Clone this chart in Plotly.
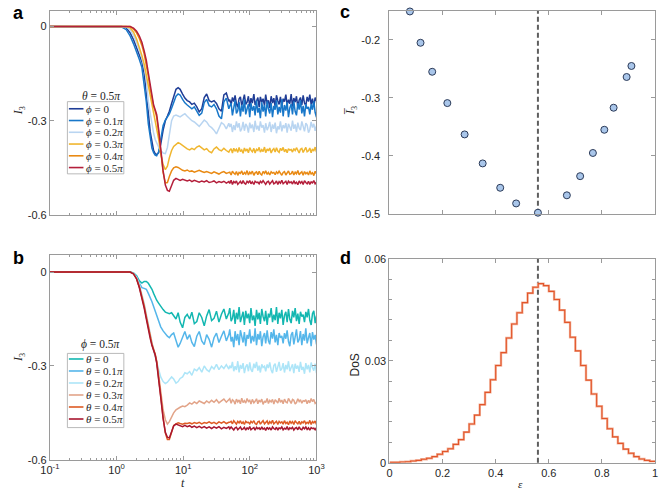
import plotly.graph_objects as go

W, H = 665, 498

# ---------------- data ----------------
T = [0.1, 1.0, 1.2, 1.4, 1.6, 1.8, 2.0, 2.2, 2.4, 2.6,
     2.8, 3.0, 3.2, 3.4, 3.6, 3.8, 4.0, 4.3, 4.6, 5.0,
     5.4, 5.8, 6.2, 6.7, 7.2, 7.8, 8.4, 9.0, 9.8, 10.6,
     11.5, 12.5, 13.5, 14.7, 16, 17.4, 19, 20.7, 22.5, 24.5,
     26.7, 29, 31.6, 34.4, 37.5, 40.8, 44.4, 48.4,
     50, 52.4, 54.8, 57.4, 60.1, 62.9, 65.9, 69, 72.2, 75.6,
     79.2, 82.9, 86.8, 90.9, 95.2, 99.7, 104, 109, 115, 120,
     126, 132, 138, 144, 151, 158, 166, 173, 182, 190,
     199, 209, 219, 229, 240, 251, 263, 275, 288, 302,
     316, 331, 347, 363, 380, 398, 417, 437, 457, 479,
     501, 525, 550, 575, 603, 631, 661, 692, 724, 759,
     794, 832, 871, 912, 955, 1000]

# panel a : theta = 0.5 pi, varying phi
I3_phi0 = [0, 0, 0, -0.004, -0.02, -0.042, -0.066, -0.09, -0.112, -0.15,
           -0.205, -0.275, -0.335, -0.372, -0.395, -0.405, -0.408, -0.402, -0.375, -0.33,
           -0.3, -0.285, -0.27, -0.245, -0.22, -0.2, -0.195, -0.2, -0.215, -0.228,
           -0.236, -0.24, -0.248, -0.244, -0.256, -0.272, -0.262, -0.226, -0.215, -0.236,
           -0.24, -0.236, -0.245, -0.262, -0.27, -0.218, -0.212, -0.238,
           -0.233, -0.250, -0.226, -0.239, -0.219, -0.246, -0.257, -0.230, -0.224, -0.252,
           -0.235, -0.217, -0.248, -0.241, -0.222, -0.255, -0.228, -0.244, -0.215, -0.250,
           -0.237, -0.226, -0.257, -0.224, -0.241, -0.230, -0.252, -0.217, -0.246, -0.235,
           -0.259, -0.222, -0.244, -0.228, -0.255, -0.219, -0.237, -0.248, -0.224, -0.257,
           -0.230, -0.239, -0.217, -0.250, -0.233, -0.246, -0.215, -0.255, -0.228, -0.241,
           -0.222, -0.257, -0.235, -0.226, -0.250, -0.219, -0.244, -0.252, -0.224, -0.239,
           -0.217, -0.248, -0.230, -0.255, -0.226, -0.237]
I3_phi1 = [0, 0, -0.002, -0.01, -0.03, -0.055, -0.08, -0.105, -0.13, -0.18,
           -0.24, -0.31, -0.36, -0.388, -0.402, -0.41, -0.412, -0.398, -0.36, -0.315,
           -0.298, -0.288, -0.278, -0.26, -0.24, -0.222, -0.215, -0.218, -0.232, -0.243,
           -0.25, -0.255, -0.262, -0.256, -0.268, -0.283, -0.276, -0.242, -0.232, -0.252,
           -0.256, -0.248, -0.262, -0.285, -0.294, -0.24, -0.228, -0.262,
           -0.253, -0.244, -0.283, -0.259, -0.235, -0.277, -0.268, -0.241, -0.286, -0.250,
           -0.271, -0.232, -0.280, -0.262, -0.247, -0.289, -0.244, -0.268, -0.253, -0.283,
           -0.235, -0.274, -0.259, -0.292, -0.241, -0.271, -0.250, -0.286, -0.238, -0.262,
           -0.277, -0.244, -0.289, -0.253, -0.265, -0.235, -0.280, -0.256, -0.274, -0.232,
           -0.286, -0.250, -0.268, -0.241, -0.289, -0.259, -0.247, -0.280, -0.238, -0.271,
           -0.283, -0.244, -0.265, -0.235, -0.277, -0.253, -0.286, -0.247, -0.262, -0.256,
           -0.280, -0.247, -0.265, -0.238, -0.274, -0.289]
I3_phi2 = [0, 0, 0, -0.001, -0.01, -0.028, -0.05, -0.075, -0.1, -0.13,
           -0.17, -0.24, -0.28, -0.315, -0.34, -0.36, -0.372, -0.385, -0.395, -0.403,
           -0.405, -0.385, -0.345, -0.3, -0.285, -0.282, -0.285, -0.288, -0.282, -0.278,
           -0.286, -0.295, -0.3, -0.304, -0.31, -0.318, -0.308, -0.298, -0.304, -0.316,
           -0.322, -0.33, -0.342, -0.322, -0.306, -0.312, -0.326, -0.308,
           -0.320, -0.310, -0.336, -0.314, -0.330, -0.302, -0.322, -0.308, -0.334, -0.326,
           -0.304, -0.332, -0.310, -0.318, -0.338, -0.306, -0.324, -0.312, -0.336, -0.300,
           -0.328, -0.316, -0.332, -0.302, -0.322, -0.314, -0.338, -0.308, -0.330, -0.320,
           -0.304, -0.336, -0.312, -0.326, -0.306, -0.340, -0.318, -0.328, -0.302, -0.334,
           -0.314, -0.324, -0.308, -0.338, -0.310, -0.320, -0.332, -0.300, -0.326, -0.312,
           -0.336, -0.306, -0.324, -0.330, -0.302, -0.318, -0.334, -0.308, -0.314, -0.338,
           -0.328, -0.304, -0.322, -0.310, -0.332, -0.316]
I3_phi3 = [0, 0, 0, 0, -0.004, -0.018, -0.04, -0.065, -0.092, -0.12,
           -0.155, -0.19, -0.222, -0.248, -0.27, -0.292, -0.318, -0.36, -0.405, -0.44,
           -0.456, -0.445, -0.418, -0.395, -0.382, -0.374, -0.37, -0.373, -0.38, -0.386,
           -0.39, -0.393, -0.388, -0.392, -0.384, -0.38, -0.386, -0.393, -0.389, -0.398,
           -0.402, -0.39, -0.384, -0.392, -0.396, -0.388, -0.395, -0.4,
           -0.394, -0.389, -0.403, -0.388, -0.396, -0.391, -0.401, -0.385, -0.398, -0.393,
           -0.404, -0.387, -0.397, -0.390, -0.402, -0.386, -0.394, -0.399, -0.388, -0.403,
           -0.391, -0.395, -0.385, -0.400, -0.392, -0.398, -0.384, -0.402, -0.390, -0.396,
           -0.387, -0.403, -0.393, -0.389, -0.400, -0.386, -0.397, -0.401, -0.388, -0.395,
           -0.385, -0.399, -0.391, -0.402, -0.389, -0.394,
           -0.392, -0.400, -0.389, -0.395, -0.386, -0.398, -0.403, -0.391, -0.388, -0.401,
           -0.393, -0.385, -0.399, -0.396, -0.387, -0.402, -0.390, -0.397, -0.384, -0.400]
I3_phi4 = [0, 0, 0, 0, 0, -0.008, -0.02, -0.038, -0.06, -0.088,
           -0.12, -0.158, -0.198, -0.232, -0.254, -0.27, -0.288, -0.34, -0.4, -0.465,
           -0.498, -0.497, -0.478, -0.46, -0.45, -0.447, -0.449, -0.454, -0.458, -0.46,
           -0.457, -0.462, -0.46, -0.464, -0.461, -0.458, -0.462, -0.465, -0.462, -0.466,
           -0.468, -0.463, -0.466, -0.47, -0.465, -0.462, -0.468, -0.464,
           -0.464, -0.473, -0.461, -0.467, -0.471, -0.462, -0.474, -0.465, -0.468, -0.460,
           -0.472, -0.465, -0.470, -0.459, -0.473, -0.464, -0.469, -0.461, -0.474, -0.466,
           -0.463, -0.472, -0.461, -0.469, -0.473, -0.462, -0.468, -0.460, -0.471, -0.465,
           -0.473, -0.463, -0.467,
           -0.465, -0.472, -0.463, -0.468, -0.461, -0.470, -0.474, -0.465, -0.462, -0.473,
           -0.466, -0.460, -0.471, -0.469, -0.461, -0.473, -0.464, -0.469, -0.459, -0.472,
           -0.467, -0.463, -0.474, -0.462, -0.469, -0.465, -0.473, -0.460, -0.470, -0.466,
           -0.475, -0.461, -0.469]
I3_phi5 = [0, 0, 0, 0, 0, -0.005, -0.015, -0.03, -0.05, -0.078,
           -0.108, -0.148, -0.19, -0.226, -0.25, -0.265, -0.28, -0.33, -0.395, -0.46,
           -0.505, -0.522, -0.525, -0.508, -0.49, -0.484, -0.486, -0.49, -0.487, -0.49,
           -0.492, -0.489, -0.494, -0.49, -0.493, -0.496, -0.492, -0.495, -0.491, -0.497,
           -0.495, -0.492, -0.498, -0.494, -0.497, -0.493, -0.499, -0.494,
           -0.500, -0.490, -0.503, -0.494, -0.498, -0.492, -0.503, -0.496, -0.493, -0.501,
           -0.491, -0.499, -0.502, -0.493, -0.498, -0.491, -0.501, -0.495, -0.503, -0.493,
           -0.497,
           -0.496, -0.501, -0.493, -0.498, -0.491, -0.500, -0.503, -0.495, -0.493, -0.502,
           -0.496, -0.491, -0.501, -0.498, -0.492, -0.503, -0.494, -0.499, -0.490, -0.501,
           -0.497, -0.493, -0.503, -0.493, -0.498, -0.495, -0.502, -0.491, -0.500, -0.496,
           -0.504, -0.492, -0.499, -0.494, -0.503, -0.491, -0.497, -0.501, -0.493, -0.503,
           -0.495, -0.498, -0.491, -0.501, -0.496]

# panel b : phi = 0.5 pi, varying theta
I3_th0 = [0, 0, 0, 0, 0, -0.003, -0.012, -0.028, -0.035, -0.03,
          -0.03, -0.036, -0.045, -0.055, -0.068, -0.08, -0.09, -0.1, -0.11, -0.12,
          -0.128, -0.132, -0.133, -0.13, -0.14, -0.15, -0.13, -0.16, -0.178, -0.145,
          -0.135, -0.15, -0.128, -0.165, -0.158, -0.13, -0.145, -0.172, -0.14, -0.12,
          -0.155, -0.148, -0.125, -0.16, -0.135, -0.118, -0.15, -0.13,
          -0.115, -0.157, -0.148, -0.121, -0.166, -0.130, -0.151, -0.112, -0.160, -0.142,
          -0.127, -0.169, -0.124, -0.148, -0.133, -0.163, -0.115, -0.154, -0.139, -0.172,
          -0.121, -0.151, -0.130, -0.166, -0.118, -0.142, -0.157, -0.124, -0.169, -0.133,
          -0.145, -0.115, -0.160, -0.136, -0.154, -0.112, -0.166, -0.130, -0.148, -0.121,
          -0.169, -0.139, -0.127, -0.160, -0.118, -0.151, -0.163, -0.124, -0.145, -0.115,
          -0.157, -0.133, -0.166, -0.127, -0.142,
          -0.136, -0.160, -0.127, -0.145, -0.118, -0.154, -0.169, -0.133, -0.124, -0.163,
          -0.139]
I3_th1 = [0, 0, 0, 0, 0, -0.004, -0.015, -0.035, -0.05, -0.052,
          -0.055, -0.068, -0.08, -0.095, -0.11, -0.125, -0.14, -0.16, -0.175, -0.188,
          -0.198, -0.205, -0.21, -0.2, -0.195, -0.215, -0.24, -0.228, -0.205, -0.19,
          -0.215, -0.2, -0.225, -0.238, -0.205, -0.19, -0.22, -0.232, -0.2, -0.215,
          -0.24, -0.21, -0.195, -0.225, -0.205, -0.188, -0.22, -0.2,
          -0.183, -0.222, -0.207, -0.240, -0.189, -0.219, -0.198, -0.234, -0.186, -0.210,
          -0.225, -0.192, -0.237, -0.201, -0.213, -0.183, -0.228, -0.204, -0.222, -0.180,
          -0.234, -0.198, -0.216, -0.189, -0.237, -0.207, -0.195, -0.228, -0.186, -0.219,
          -0.231, -0.192, -0.213, -0.183, -0.225, -0.201, -0.234, -0.195, -0.210,
          -0.204, -0.228, -0.195, -0.213, -0.186, -0.222, -0.237, -0.201, -0.192, -0.231,
          -0.207, -0.183, -0.225, -0.216, -0.189, -0.234, -0.198, -0.219, -0.180, -0.228,
          -0.210, -0.195, -0.237, -0.192, -0.216, -0.201, -0.231]
I3_th2 = [0, 0, 0, 0, 0, -0.005, -0.018, -0.04, -0.07, -0.1,
          -0.135, -0.17, -0.2, -0.225, -0.25, -0.27, -0.29, -0.315, -0.335, -0.35,
          -0.356, -0.352, -0.345, -0.335, -0.342, -0.355, -0.35, -0.34, -0.335, -0.322,
          -0.325, -0.318, -0.33, -0.31, -0.315, -0.305, -0.32, -0.3, -0.312, -0.318,
          -0.302, -0.31, -0.295, -0.312, -0.3, -0.308, -0.296, -0.31,
          -0.299, -0.307, -0.287, -0.317, -0.301, -0.313, -0.285, -0.321, -0.297, -0.309,
          -0.291, -0.323, -0.303, -0.295, -0.317, -0.289, -0.311, -0.319, -0.293, -0.307,
          -0.287, -0.315, -0.299, -0.321, -0.295, -0.305,
          -0.301, -0.317, -0.295, -0.307, -0.289, -0.313, -0.323, -0.299, -0.293, -0.319,
          -0.303, -0.287, -0.315, -0.309, -0.291, -0.321, -0.297, -0.311, -0.285, -0.317,
          -0.305, -0.295, -0.323, -0.293, -0.309, -0.299, -0.319, -0.287, -0.313, -0.303,
          -0.325, -0.291, -0.311, -0.297, -0.321, -0.289, -0.305, -0.315, -0.293, -0.323]
I3_th3 = [0, 0, 0, 0, 0, -0.005, -0.02, -0.045, -0.075, -0.105,
          -0.14, -0.175, -0.205, -0.228, -0.245, -0.262, -0.285, -0.33, -0.38, -0.44,
          -0.472, -0.486, -0.478, -0.462, -0.45, -0.44, -0.435, -0.432, -0.428, -0.43,
          -0.425, -0.418, -0.422, -0.415, -0.42, -0.412, -0.416, -0.42, -0.412, -0.418,
          -0.41, -0.416, -0.408, -0.418, -0.412, -0.406, -0.416, -0.41,
          -0.405, -0.419, -0.408, -0.412, -0.422, -0.406, -0.415, -0.409, -0.421, -0.403,
          -0.417, -0.411, -0.419, -0.404, -0.414, -0.410, -0.422, -0.407, -0.418, -0.413,
          -0.405, -0.421, -0.409, -0.416, -0.406, -0.423, -0.412, -0.417, -0.404, -0.420,
          -0.410, -0.415, -0.407, -0.422, -0.408, -0.413, -0.419, -0.403, -0.416, -0.409,
          -0.421, -0.406, -0.415, -0.418, -0.404, -0.412, -0.420, -0.407, -0.410, -0.422,
          -0.417, -0.405, -0.414, -0.408, -0.419, -0.411,
          -0.413, -0.408, -0.421, -0.410, -0.418, -0.404, -0.414, -0.407, -0.420, -0.416]
I3_th4 = [0, 0, 0, 0, 0, -0.006, -0.022, -0.048, -0.078, -0.11,
          -0.145, -0.18, -0.21, -0.232, -0.248, -0.262, -0.285, -0.335, -0.395, -0.465,
          -0.515, -0.535, -0.535, -0.512, -0.49, -0.485, -0.482, -0.484, -0.486, -0.483,
          -0.484, -0.482, -0.485, -0.481, -0.484, -0.48, -0.485, -0.481, -0.483, -0.479,
          -0.484, -0.48, -0.485, -0.479, -0.483, -0.478, -0.484, -0.48,
          -0.480, -0.477, -0.485, -0.475, -0.483, -0.486, -0.477, -0.482, -0.475, -0.485,
          -0.479, -0.487, -0.477, -0.481,
          -0.480, -0.485, -0.477, -0.482, -0.475, -0.484, -0.487, -0.479, -0.477, -0.486,
          -0.480, -0.475, -0.485, -0.482, -0.476, -0.487, -0.478, -0.483, -0.474, -0.485,
          -0.481, -0.477, -0.487, -0.477, -0.482, -0.479, -0.486, -0.475, -0.484, -0.480,
          -0.488, -0.476, -0.483, -0.478, -0.487, -0.475, -0.481, -0.485, -0.477, -0.487,
          -0.479, -0.482, -0.475, -0.485, -0.480, -0.484, -0.474, -0.487, -0.478, -0.482,
          -0.476, -0.487]
I3_th5 = [0, 0, 0, 0, 0, -0.006, -0.022, -0.05, -0.08, -0.115,
          -0.15, -0.185, -0.212, -0.235, -0.25, -0.265, -0.29, -0.34, -0.4, -0.468,
          -0.512, -0.528, -0.53, -0.51, -0.492, -0.486, -0.488, -0.492, -0.494, -0.49,
          -0.494, -0.491, -0.496, -0.492, -0.497, -0.493, -0.498, -0.494, -0.499, -0.495,
          -0.5, -0.495, -0.499, -0.494, -0.501, -0.496, -0.5, -0.495,
          -0.501, -0.495, -0.502, -0.505, -0.498, -0.496, -0.504, -0.499, -0.495, -0.503,
          -0.501, -0.496, -0.505, -0.498, -0.502, -0.494, -0.504, -0.500, -0.497, -0.505,
          -0.496, -0.501, -0.498, -0.504, -0.495, -0.502, -0.499, -0.506, -0.496, -0.502,
          -0.498, -0.505, -0.495, -0.500, -0.503, -0.496, -0.505, -0.498, -0.501, -0.495,
          -0.504, -0.499, -0.502, -0.494, -0.505, -0.498, -0.501, -0.496, -0.505, -0.499,
          -0.497, -0.504, -0.495, -0.502, -0.504, -0.496, -0.501, -0.495, -0.503, -0.498,
          -0.505, -0.497, -0.500, -0.499, -0.504, -0.497]

SERIES_A = [I3_phi0, I3_phi1, I3_phi2, I3_phi3, I3_phi4, I3_phi5]
SERIES_B = [I3_th0, I3_th1, I3_th2, I3_th3, I3_th4, I3_th5]
LABELS_A = ["<i>ϕ</i> = 0", "<i>ϕ</i> = 0.1<i>π</i>", "<i>ϕ</i> = 0.2<i>π</i>",
            "<i>ϕ</i> = 0.3<i>π</i>", "<i>ϕ</i> = 0.4<i>π</i>", "<i>ϕ</i> = 0.5<i>π</i>"]
LABELS_B = ["<i>θ</i> = 0", "<i>θ</i> = 0.1<i>π</i>", "<i>θ</i> = 0.2<i>π</i>",
            "<i>θ</i> = 0.3<i>π</i>", "<i>θ</i> = 0.4<i>π</i>", "<i>θ</i> = 0.5<i>π</i>"]
TITLE_A = "<i>θ</i> = 0.5<i>π</i>"
TITLE_B = "<i>ϕ</i> = 0.5<i>π</i>"
COLORS_A = ["#1f3d96", "#1877c9", "#b9d5f1", "#f0b62f", "#e98a14", "#b41f3b"]
COLORS_B = ["#13b7b1", "#55b6ea", "#ade5f8", "#e2a489", "#de5b24", "#a8162f"]

# panel c
EPS_C = [0.077, 0.117, 0.161, 0.218, 0.283, 0.351, 0.417, 0.477, 0.559,
         0.668, 0.718, 0.766, 0.809, 0.844, 0.893, 0.911]
I3BAR_C = [-0.151, -0.205, -0.255, -0.309, -0.363, -0.413, -0.455, -0.482, -0.498,
           -0.468, -0.435, -0.395, -0.355, -0.317, -0.264, -0.245]
EPS_STAR = 0.559

# panel d (bin width 0.02 from 0 to 1)
BIN_WIDTH = 0.02
DOS = [0.0001, 0.0001, 0.0002, 0.0003, 0.0005, 0.0007, 0.001, 0.0013, 0.0018, 0.0025,
       0.0033, 0.0041, 0.0054, 0.0068, 0.009, 0.0114, 0.014, 0.0171, 0.0207, 0.0244,
       0.0286, 0.0324, 0.0367, 0.0408, 0.0441, 0.0471, 0.0499, 0.0516, 0.0527, 0.0521,
       0.0504, 0.048, 0.0449, 0.0413, 0.0369, 0.0329, 0.0286, 0.0243, 0.0202, 0.0166,
       0.013, 0.0100, 0.0076, 0.0057, 0.004, 0.0028, 0.0018, 0.0011, 0.0007, 0.0004]

# ---------------- figure ----------------
AX = "#9a9a9a"
TXT = "#262626"
SANS = "Liberation Sans, Arial, sans-serif"
SERIF = "Liberation Serif, DejaVu Serif, serif"


def px(x):
    return x / W


def py(y):
    return 1 - y / H


fig = go.Figure()

for vals, col in zip(SERIES_A, COLORS_A):
    n = min(len(T), len(vals))
    fig.add_trace(go.Scatter(x=T[:n], y=vals[:n], mode="lines", line=dict(color=col, width=1.5),
                             xaxis="x", yaxis="y", showlegend=False))
for vals, col in zip(SERIES_B, COLORS_B):
    n = min(len(T), len(vals))
    fig.add_trace(go.Scatter(x=T[:n], y=vals[:n], mode="lines", line=dict(color=col, width=1.5),
                             xaxis="x2", yaxis="y2", showlegend=False))

fig.add_trace(go.Scatter(x=EPS_C, y=I3BAR_C, mode="markers", cliponaxis=False,
                         marker=dict(size=7, color="#a9c6ea", line=dict(color="#2b3a58", width=1)),
                         xaxis="x3", yaxis="y3", showlegend=False))

edges = [BIN_WIDTH * i for i in range(len(DOS) + 1)]
fig.add_trace(go.Scatter(x=edges, y=DOS + [DOS[-1]], mode="lines", line_shape="hv",
                         line=dict(color="#f3b29a", width=2.4),
                         xaxis="x4", yaxis="y4", showlegend=False))
fig.add_trace(go.Scatter(x=edges, y=DOS + [DOS[-1]], mode="lines", line_shape="hv",
                         line=dict(color="#e2552a", width=1.1),
                         xaxis="x4", yaxis="y4", showlegend=False))

log_minor = [m * 10 ** e for e in range(-1, 3) for m in range(2, 10)]


def base_axis(**kw):
    d = dict(showline=True, linecolor=AX, linewidth=1, mirror="ticks", ticks="inside",
             ticklen=4, tickcolor=AX, tickwidth=1, showgrid=False, zeroline=False,
             ticklabeloverflow="allow",
             tickfont=dict(family=SANS, size=11, color=TXT))
    d.update(kw)
    return d


xa_dom = [px(41), px(315)]
xc_dom = [px(390), px(663)]

fig.update_layout(
    width=W, height=H, margin=dict(l=0, r=0, t=0, b=0),
    paper_bgcolor="white", plot_bgcolor="white", hovermode=False,
    xaxis=base_axis(domain=xa_dom, anchor="y", type="log", range=[-1, 3],
                    tickvals=[0.1, 1, 10, 100, 1000], showticklabels=False,
                    minor=dict(tickvals=log_minor, ticks="inside", ticklen=2, tickcolor=AX)),
    yaxis=base_axis(domain=[py(214), py(5)], anchor="x", range=[-0.6, 0.05],
                    tickvals=[0, -0.3, -0.6], ticktext=["0", "-0.3", "-0.6"]),
    xaxis2=base_axis(domain=xa_dom, anchor="y2", type="log", range=[-1, 3],
                     tickvals=[0.1, 1, 10, 100, 1000],
                     ticktext=["10<sup>-1</sup>", "10<sup>0</sup>", "10<sup>1</sup>",
                               "10<sup>2</sup>", "10<sup>3</sup>"],
                     minor=dict(tickvals=log_minor, ticks="inside", ticklen=2, tickcolor=AX)),
    yaxis2=base_axis(domain=[py(465), py(255)], anchor="x2", range=[-0.6, 0.055],
                     tickvals=[0, -0.3, -0.6], ticktext=["0", "-0.3", "-0.6"]),
    xaxis3=base_axis(domain=xc_dom, anchor="y3", range=[0, 1],
                     tickvals=[0.2, 0.4, 0.6, 0.8], showticklabels=False),
    yaxis3=base_axis(domain=[py(213), py(5)], anchor="x3", range=[-0.5, -0.15],
                     tickvals=[-0.2, -0.3, -0.4, -0.5], ticktext=["-0.2", "-0.3", "-0.4", "-0.5"],
                     ticklabelstandoff=6),
    xaxis4=base_axis(domain=xc_dom, anchor="y4", range=[0, 1.0],
                     tickvals=[0, 0.2, 0.4, 0.6, 0.8, 1],
                     ticktext=["0", "0.2", "0.4", "0.6", "0.8", "1"]),
    yaxis4=base_axis(domain=[py(468), py(259)], anchor="x4", range=[0, 0.06],
                     tickvals=[0, 0.03, 0.06], ticktext=["0", "0.03", "0.06"],
                     minor=dict(dtick=0.006, tick0=0, ticks="inside", ticklen=3, tickcolor=AX)),
)

# dashed reference lines
for xr, yr in (("x3", "y3 domain"), ("x4", "y4 domain")):
    fig.add_shape(type="line", xref=xr, yref=yr, x0=EPS_STAR, x1=EPS_STAR, y0=0, y1=1,
                  line=dict(color="#5e5e5e", width=2, dash="5px,3px"), layer="below")

annotations = []


def ann(text, x, y, size=12, family=SANS, angle=0, xanchor="center", yanchor="middle",
        color=TXT, bold=False):
    if bold:
        text = "<b>" + text + "</b>"
    annotations.append(dict(text=text, x=px(x), y=py(y), xref="paper", yref="paper",
                            showarrow=False, textangle=angle, xanchor=xanchor,
                            yanchor=yanchor, font=dict(family=family, size=size, color=color)))


# panel letters
ann("a", 1, 7, size=18, xanchor="left", bold=True, color="black")
ann("b", 1, 258, size=18, xanchor="left", bold=True, color="black")
ann("c", 337, 6, size=18, xanchor="left", bold=True, color="black")
ann("d", 337, 258, size=18, xanchor="left", bold=True, color="black")

# axis titles
ann("<i>I</i><sub>3</sub>", 10, 107, size=12, family=SERIF, angle=-90)
ann("<i>I</i><sub>3</sub>", 10, 360, size=12, family=SERIF, angle=-90)
ann("<i>t</i>", 178, 498, size=12, family=SERIF, yanchor="bottom")
ann("<i>I̅</i><sub>3</sub>", 351, 107, size=12, family=SERIF, angle=-90)
ann("DoS", 355, 368, size=12, angle=-90)
ann("<i>ε</i>", 525, 498, size=11, family=SERIF, yanchor="bottom")


# manual legends
def legend(box, title_y, first_y, step, labels, colors, title):
    x0, x1, y0, y1 = box
    fig.add_shape(type="rect", xref="paper", yref="paper", x0=px(x0), x1=px(x1),
                  y0=py(y1), y1=py(y0), line=dict(color="#a8a8a8", width=0.8),
                  fillcolor="white", layer="above")
    ann(title, x1 - 1, title_y, size=11.5, family=SERIF, xanchor="right")
    for i, (lab, col) in enumerate(zip(labels, colors)):
        yy = first_y + i * step
        fig.add_shape(type="line", xref="paper", yref="paper", x0=px(x0 + 1.5), x1=px(x0 + 16.5),
                      y0=py(yy), y1=py(yy), line=dict(color=col, width=1.6), layer="above")
        ann(lab, x0 + 17.5, yy, size=11, family=SERIF, xanchor="left")


legend((59, 117, 98, 172), 92, 105.3, 12.05, LABELS_A, COLORS_A, TITLE_A)
legend((59, 117, 356, 432), 347, 361.7, 12.3, LABELS_B, COLORS_B, TITLE_B)

fig.update_layout(annotations=annotations)
fig.write_html("out.html", config={"displayModeBar": False},
               post_script="document.body.style.margin='0';document.body.style.overflow='hidden';")
